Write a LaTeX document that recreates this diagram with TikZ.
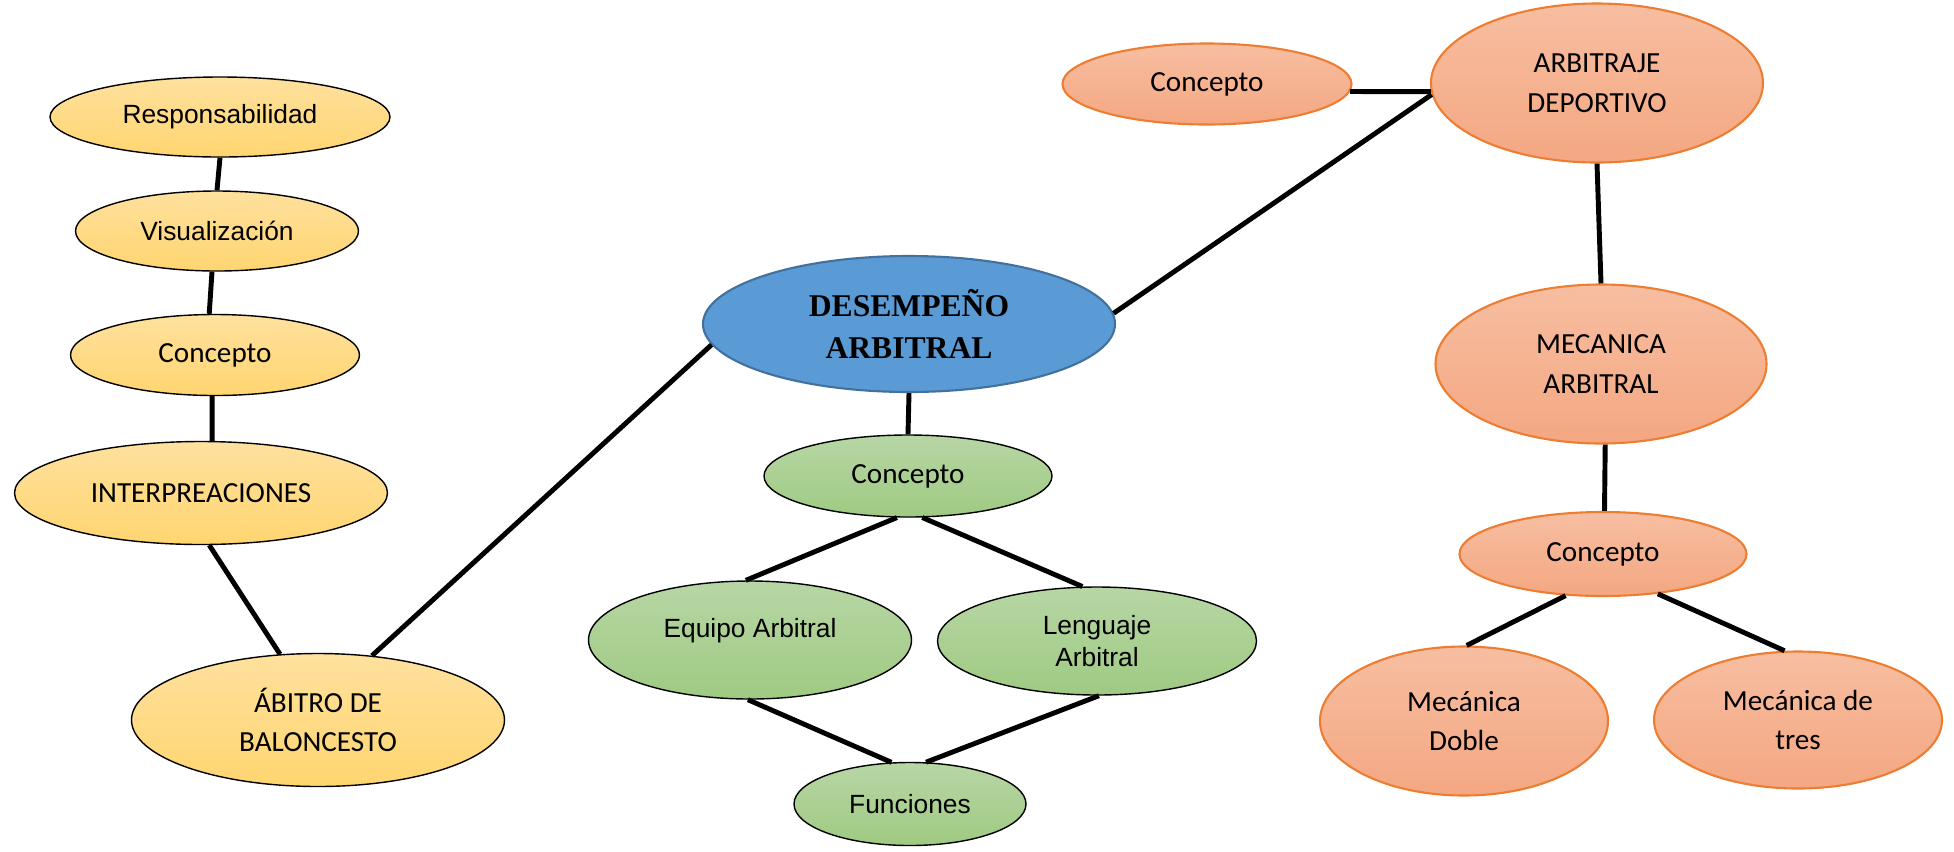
\documentclass[tikz,border=0pt]{standalone}
\usepackage{fontspec}
\setmainfont{Liberation Sans}
\newfontfamily\calibri{Carlito}
\newfontfamily\timesbf{Liberation Serif}
\usetikzlibrary{shapes.geometric}

\definecolor{goldtop}{RGB}{255,225,158}
\definecolor{goldbot}{RGB}{255,213,112}
\definecolor{leaftop}{RGB}{183,214,165}
\definecolor{leafbot}{RGB}{159,202,130}
\definecolor{peachtop}{RGB}{247,190,161}
\definecolor{peachbot}{RGB}{244,167,130}
\definecolor{peachline}{RGB}{237,125,49}
\definecolor{hubfill}{RGB}{91,155,213}
\definecolor{hubline}{RGB}{65,113,156}

\begin{document}
\begin{tikzpicture}[
    every node/.style={ellipse, inner sep=0pt, align=center},
    dims/.style 2 args={minimum width=#1cm, minimum height=#2cm},
    gold/.style={draw=black, line width=0.4pt, top color=goldtop, bottom color=goldbot},
    leaf/.style={draw=black, line width=0.4pt, top color=leaftop, bottom color=leafbot},
    peach/.style={draw=peachline, line width=0.6pt, top color=peachtop, bottom color=peachbot},
    hub/.style={draw=hubline, line width=0.6pt, fill=hubfill},
    arial/.style={font=\fontsize{7.5}{9}\selectfont},
    cal/.style={font=\calibri\fontsize{8.3}{11.3}\selectfont},
    link/.style={line width=1.4pt},
]
  \useasboundingbox (0,0) rectangle (19.54,-8.51);

  \node [gold, arial, dims={3.40}{0.80}]   (r)  at (2.20,-1.17)  {Responsabilidad};
  \node [gold, arial, dims={2.83}{0.80}]   (v)  at (2.17,-2.31)  {Visualización};
  \node [gold, cal,   dims={2.89}{0.81}]   (c1) at (2.15,-3.55)  {Concepto};
  \node [gold, cal,   dims={3.73}{1.03}]   (i)  at (2.01,-4.93)  {INTERPREACIONES};
  \node [gold, cal,   dims={3.73}{1.33}]   (a)  at (3.18,-7.20)  {ÁBITRO DE\\BALONCESTO};

  \node [hub, dims={4.12}{1.36},
         font=\timesbf\bfseries\fontsize{9}{11.9}\selectfont]
                                           (d)  at (9.09,-3.24)  {DESEMPEÑO\\ARBITRAL};
  \node [leaf, cal,   dims={2.88}{0.82}]   (c2) at (9.08,-4.76)  {Concepto};
  \node [leaf, arial, dims={3.23}{1.18},
         text depth=0.25cm]                (e)  at (7.50,-6.40)  {Equipo Arbitral};
  \node [leaf, arial, dims={3.19}{1.08}]   (l)  at (10.97,-6.41) {Lenguaje\\Arbitral};
  \node [leaf, arial, dims={2.32}{0.83}]   (f)  at (9.10,-8.04)  {Funciones};

  \node [peach, cal,  dims={2.89}{0.81}]   (c3) at (12.07,-0.84) {Concepto};
  \node [peach, cal,  dims={3.32}{1.59}]   (g)  at (15.97,-0.83) {ARBITRAJE\\DEPORTIVO};
  \node [peach, cal,  dims={3.31}{1.59}]   (m)  at (16.01,-3.64) {MECANICA\\ARBITRAL};
  \node [peach, cal,  dims={2.87}{0.84}]   (c4) at (16.03,-5.54) {Concepto};
  \node [peach, cal,  dims={2.88}{1.49}]   (md) at (14.64,-7.21) {Mecánica\\Doble};
  \node [peach, cal,  dims={2.88}{1.37}]   (mt) at (17.98,-7.20) {Mecánica de\\tres};

  \draw [link] (r.south) -- (v.north);
  \draw [link] (v.-97)   -- (c1.98);
  \draw [link] (c1.-94)  -- (i.78);
  \draw [link] (i.-81)   -- (a.120);
  \draw [link] (a.50)    -- (d.186);
  \draw [link] (d.3)     -- (g.184);
  \draw [link] (c3.-3)   -- (g.183);
  \draw [link] (g.south) -- (m.north);
  \draw [link] (m.-87)   -- (c4.88);
  \draw [link] (c4.-132) -- (md.88);
  \draw [link] (c4.-36)  -- (mt.101);
  \draw [link] (d.south) -- (c2.north);
  \draw [link] (c2.-105) -- (e.94);
  \draw [link] (c2.-71)  -- (l.105);
  \draw [link] (e.-92)   -- (f.114);
  \draw [link] (l.-88)   -- (f.69);
\end{tikzpicture}
\end{document}
